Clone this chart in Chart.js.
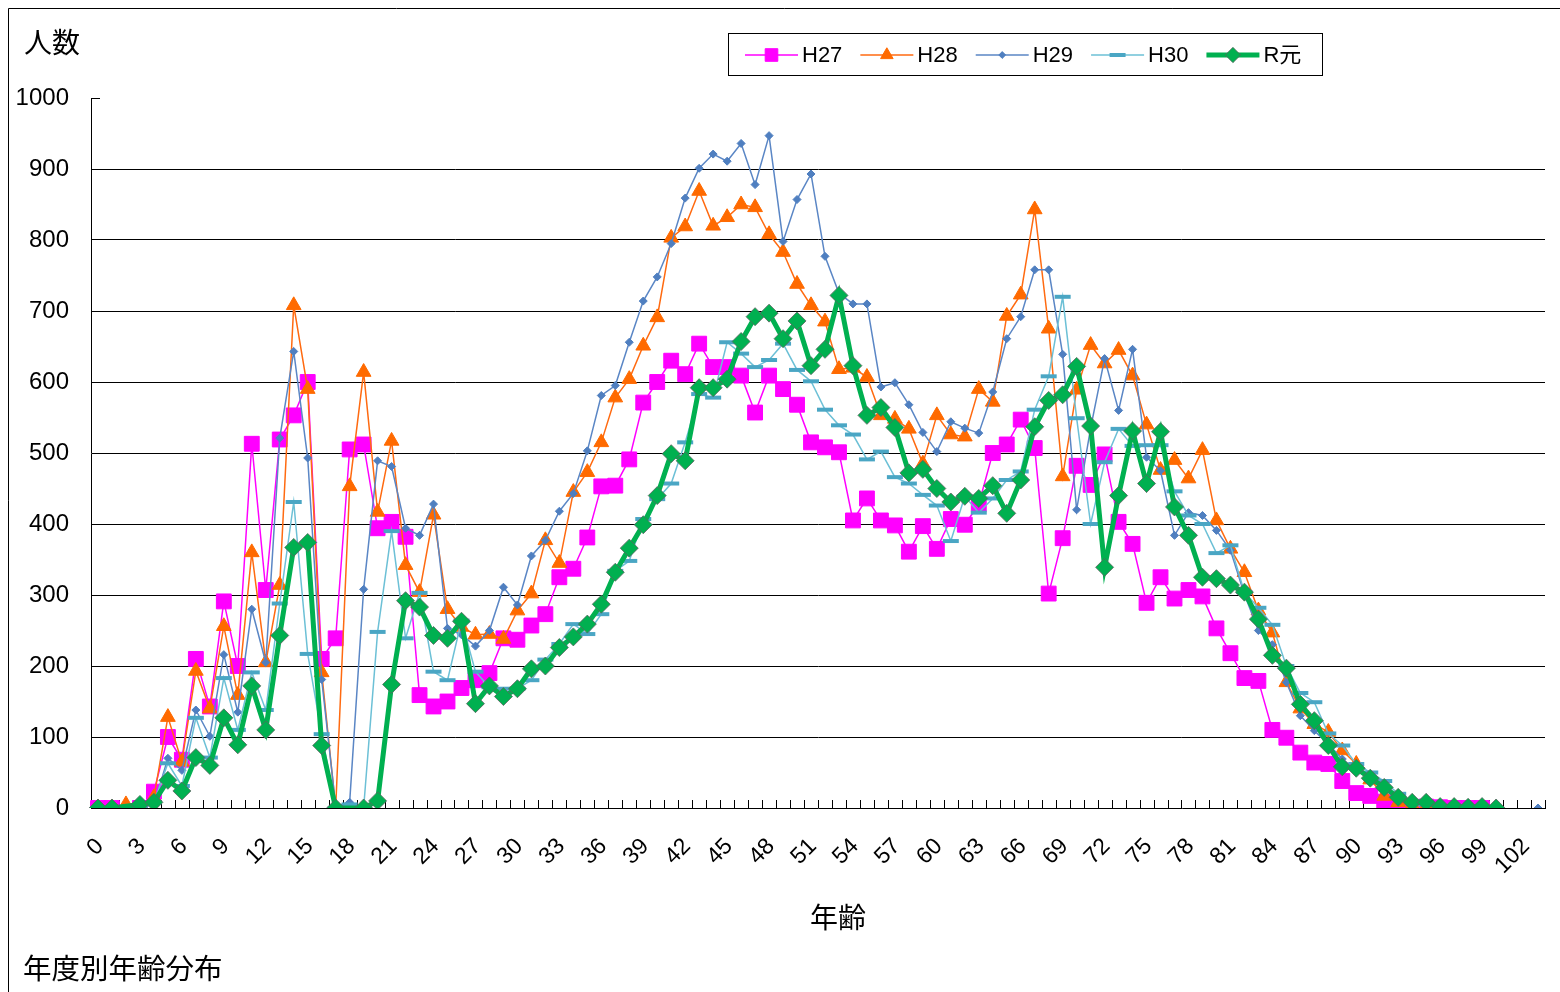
<!DOCTYPE html>
<html lang="ja">
<head>
<meta charset="UTF-8">
<title>年度別年齢分布</title>
<script src="https://cdn.jsdelivr.net/npm/chart.js"></script>
<style>
  html, body { margin: 0; padding: 0; background: #fff; }
  .wrap { position: relative; width: 1560px; height: 992px; }
</style>
</head>
<body>
<div class="wrap"><canvas id="ageChart"></canvas></div>
<script>
  // categories: age 0..103
  const ages = [
    '0','1','2','3','4','5','6','7','8','9',
    '10','11','12','13','14','15','16','17','18','19',
    '20','21','22','23','24','25','26','27','28','29',
    '30','31','32','33','34','35','36','37','38','39',
    '40','41','42','43','44','45','46','47','48','49',
    '50','51','52','53','54','55','56','57','58','59',
    '60','61','62','63','64','65','66','67','68','69',
    '70','71','72','73','74','75','76','77','78','79',
    '80','81','82','83','84','85','86','87','88','89',
    '90','91','92','93','94','95','96','97','98','99',
    '100','101','102','103'
  ];
  const tickAges = ['0','3','6','9','12','15','18','21','24','27','30','33','36','39','42','45','48',
    '51','54','57','60','63','66','69','72','75','78','81','84','87','90','93','96','99','102'];
  const yTicks = [0, 100, 200, 300, 400, 500, 600, 700, 800, 900, 1000];

  const seriesNames = ['H27', 'H28', 'H29', 'H30', 'R元'];

  const h27 = [
    0, 0, null, 0, 23, 100, 68, 210, 143, 291,
    200, 513, 307, 519, 553, 600, 210, 239, 505, 512,
    394, 403, 382, 159, 143, 150, 169, 180, 190, 239,
    237, 257, 273, 325, 337, 381, 453, 454, 491, 571,
    600, 630, 611, 654, 621, 621, 609, 557, 609, 590,
    568, 515, 508, 501, 405, 436, 405, 398, 361, 397,
    365, 407, 399, 428, 500, 512, 547, 507, 302, 380,
    482, 455, 498, 403, 372, 289, 325, 295, 307, 298,
    253, 218, 183, 179, 110, 99, 78, 64, 62, 38,
    21, 17, 9, 3, 1, 2, 1, 0, 0, 0,
    null, null, null, null
  ];
  const h28 = [
    0, 0, 5, 2, 15, 128, 65, 193, 140, 256,
    159, 360, 205, 314, 708, 590, 191, 0, 453, 614,
    417, 517, 342, 304, 413, 280, 255, 244, 245, 238,
    278, 302, 377, 345, 445, 473, 515, 578, 604, 651,
    691, 803, 819, 869, 820, 832, 850, 846, 808, 783,
    738, 708, 685, 618, 620, 607, 553, 548, 534, 485,
    553, 526, 523, 590, 572, 693, 723, 843, 675, 467,
    589, 652, 626, 645, 609, 540, 476, 490, 464, 504,
    405, 365, 332, 278, 247, 177, 140, 118, 107, 81,
    62, 40, 17, 8, 4, 3, 0, 1, 0, null,
    null, null, null, null
  ];
  const h29 = [
    0, 0, 0, 0, 5, 70, 53, 138, 101, 216,
    135, 280, 205, 521, 643, 493, 181, 3, 8, 308,
    489, 481, 394, 384, 428, 253, 244, 228, 250, 311,
    286, 355, 377, 418, 443, 503, 581, 595, 656, 714,
    748, 795, 859, 901, 921, 911, 936, 878, 947, 798,
    857, 893, 777, 725, 710, 710, 593, 599, 568, 529,
    502, 544, 535, 528, 586, 661, 692, 758, 758, 639,
    420, 535, 633, 560, 646, 494, 475, 384, 416, 412,
    391, 363, 301, 250, 230, 177, 130, 109, 90, 69,
    53, 41, 27, 15, 6, 4, 3, 2, 1, null,
    null, null, null, 0
  ];
  const h30 = [
    0, 0, 0, 2, 8, 63, 31, 127, 71, 183,
    110, 191, 138, 288, 431, 217, 104, 0, 5, 0,
    248, 390, 239, 303, 192, 180, 264, 192, 170, 168,
    168, 180, 209, 231, 259, 245, 273, 334, 348, 407,
    435, 457, 515, 583, 578, 656, 640, 621, 631, 654,
    617, 601, 561, 539, 526, 491, 502, 466, 457, 441,
    426, 376, 439, 416, 436, 462, 474, 561, 608, 720,
    549, 400, 487, 534, 510, 511, 511, 446, 412, 400,
    359, 370, 304, 282, 258, 200, 162, 149, 105, 88,
    62, 50, 38, 20, 10, 5, 3, 2, 1, 0,
    null, null, null, null
  ];
  const r1 = [
    0, 0, null, 5, 8, 39, 24, 71, 60, 127,
    89, 172, 110, 243, 367, 374, 88, 0, null, 0,
    10, 174, 292, 283, 243, 239, 263, 147, 172, 157,
    168, 196, 200, 226, 241, 259, 287, 332, 366, 399,
    440, 499, 489, 592, 592, 604, 657, 692, 697, 661,
    686, 623, 646, 722, 623, 553, 564, 536, 472, 477,
    450, 431, 439, 436, 454, 415, 462, 537, 574, 582,
    622, 538, 339, 440, 531, 457, 530, 424, 384, 325,
    323, 314, 304, 266, 215, 197, 146, 123, 88, 58,
    56, 42, 29, 15, 8, 8, 2, 2, 1, 2,
    0, null, null, null
  ];

  const jpFont = '"Noto Sans CJK JP", sans-serif';
  const numFont = '"Liberation Sans", "Noto Sans CJK JP", sans-serif';

  const datasets = [
    { label: seriesNames[0], data: h27, borderColor: '#ff00ff', backgroundColor: '#ff00ff',
      borderWidth: 1.5, pointStyle: 'rect', pointRadius: 10.5, pointBorderWidth: 1,
      pointBorderColor: '#ff00ff', spanGaps: true, order: 5 },
    { label: seriesNames[1], data: h28, borderColor: '#ff6a10', backgroundColor: '#ff6a00',
      borderWidth: 1.5, pointStyle: 'triangle', pointRadius: 8.5, pointBorderWidth: 1,
      pointBorderColor: '#ff6a00', spanGaps: true, order: 4 },
    { label: seriesNames[2], data: h29, borderColor: '#5a86c5', backgroundColor: '#4f7fc0',
      borderWidth: 1.5, pointStyle: 'rectRot', pointRadius: 4, pointBorderWidth: 1,
      pointBorderColor: '#4f7fc0', spanGaps: false, order: 3 },
    { label: seriesNames[3], data: h30, borderColor: '#6cc0d6', backgroundColor: '#4bacc6',
      borderWidth: 1.5, pointStyle: 'line', pointRadius: 8, pointBorderWidth: 4,
      pointBorderColor: '#4aa6c4', spanGaps: true, order: 2 },
    { label: seriesNames[4], data: r1, borderColor: '#00b050', backgroundColor: '#00b050',
      borderWidth: 5, pointStyle: 'rectRot', pointRadius: 9, pointBorderWidth: 1,
      pointBorderColor: 'rgba(90,100,95,0.8)', spanGaps: true, order: 1 }
  ];

  // frame, inner tick marks, texts and legend box
  const decorations = {
    id: 'decorations',
    beforeDraw(chart) {
      const ctx = chart.ctx;
      ctx.save();
      ctx.fillStyle = '#fff';
      ctx.fillRect(0, 0, chart.width, chart.height);
      ctx.strokeStyle = '#000';
      ctx.lineWidth = 1;
      ctx.beginPath();
      ctx.moveTo(8.5, chart.height);
      ctx.lineTo(8.5, 8.5);
      ctx.lineTo(chart.width, 8.5);
      ctx.stroke();
      ctx.restore();
    },
    beforeDatasetsDraw(chart) {
      const ctx = chart.ctx;
      const xs = chart.scales.x, ys = chart.scales.y;
      const step = xs.getPixelForValue(1) - xs.getPixelForValue(0);
      const first = xs.getPixelForValue(0) - step / 2;
      ctx.save();
      ctx.strokeStyle = '#000';
      ctx.lineWidth = 1;
      ctx.beginPath();
      for (let i = 0; i <= ages.length; i++) {
        const px = Math.round(first + i * step) + 0.5;
        ctx.moveTo(px, ys.bottom);
        ctx.lineTo(px, ys.bottom - 8);
      }
      const ty = Math.round(ys.getPixelForValue(1000)) + 0.5;
      ctx.moveTo(xs.left, ty);
      ctx.lineTo(xs.left + 9, ty);
      ctx.stroke();
      ctx.restore();
    },
    afterDraw(chart) {
      const ctx = chart.ctx;
      ctx.save();
      ctx.fillStyle = '#000';
      ctx.textBaseline = 'middle';
      ctx.textAlign = 'left';
      ctx.font = '28px ' + jpFont;
      ctx.fillText('人数', 24, 42);
      ctx.font = '28.5px ' + jpFont;
      ctx.fillText('年度別年齢分布', 23, 968);
      ctx.textAlign = 'center';
      ctx.font = '28px ' + jpFont;
      ctx.fillText('年齢', 838, 917);

      // legend
      ctx.strokeStyle = '#000';
      ctx.lineWidth = 1;
      ctx.strokeRect(728.5, 33.5, 594, 42);
      ctx.font = '22px ' + numFont;
      ctx.textAlign = 'left';
      let lx = 745;
      const ly = 55;
      chart.data.datasets.forEach(ds => {
        ctx.strokeStyle = ds.borderColor;
        ctx.lineWidth = ds.borderWidth;
        ctx.beginPath();
        ctx.moveTo(lx, ly);
        ctx.lineTo(lx + 53, ly);
        ctx.stroke();
        ctx.fillStyle = ds.backgroundColor;
        ctx.strokeStyle = ds.pointBorderColor;
        ctx.lineWidth = ds.pointBorderWidth;
        Chart.helpers.drawPoint(ctx, {
          pointStyle: ds.pointStyle,
          radius: ds.pointStyle === 'line' ? ds.pointRadius : ds.pointRadius * 0.85,
          rotation: 0,
          borderWidth: ds.pointBorderWidth
        }, lx + 26.5, ly);
        ctx.fillStyle = '#000';
        ctx.fillText(ds.label, lx + 57, ly + 1);
        lx += 57 + ctx.measureText(ds.label).width + 18;
      });
      ctx.restore();
    }
  };

  new Chart(document.getElementById('ageChart'), {
    type: 'line',
    data: { labels: ages, datasets: datasets },
    options: {
      responsive: true,
      maintainAspectRatio: false,
      animation: false,
      layout: { padding: { top: 98, right: 15, left: 0, bottom: 0 } },
      elements: { line: { tension: 0 } },
      plugins: { legend: { display: false }, tooltip: { enabled: false } },
      scales: {
        x: {
          offset: true,
          grid: { display: false },
          border: { display: true, color: '#000', width: 1 },
          ticks: {
            autoSkip: false,
            minRotation: 45,
            maxRotation: 45,
            padding: 17,
            labelOffset: 2,
            color: '#000',
            font: { family: numFont, size: 23 },
            callback(value, index) {
              return tickAges.includes(ages[index]) ? ages[index] : '';
            }
          },
          afterFit(scale) {
            scale.height = 184;
            scale.paddingLeft = 0;
            scale.paddingRight = 0;
          }
        },
        y: {
          min: 0,
          max: 1000,
          afterBuildTicks(scale) { scale.ticks = yTicks.map(v => ({ value: v })); },
          grid: {
            drawTicks: false,
            lineWidth: 1,
            color: c => (c.tick && (c.tick.value === 0 || c.tick.value === 1000)) ? 'rgba(0,0,0,0)' : '#000'
          },
          border: { display: true, color: '#000', width: 1 },
          ticks: {
            padding: 22,
            color: '#000',
            font: { family: numFont, size: 24 },
            callback: v => String(v)
          },
          afterFit(scale) { scale.width = 91; }
        }
      }
    },
    plugins: [decorations]
  });
</script>
</body>
</html>
